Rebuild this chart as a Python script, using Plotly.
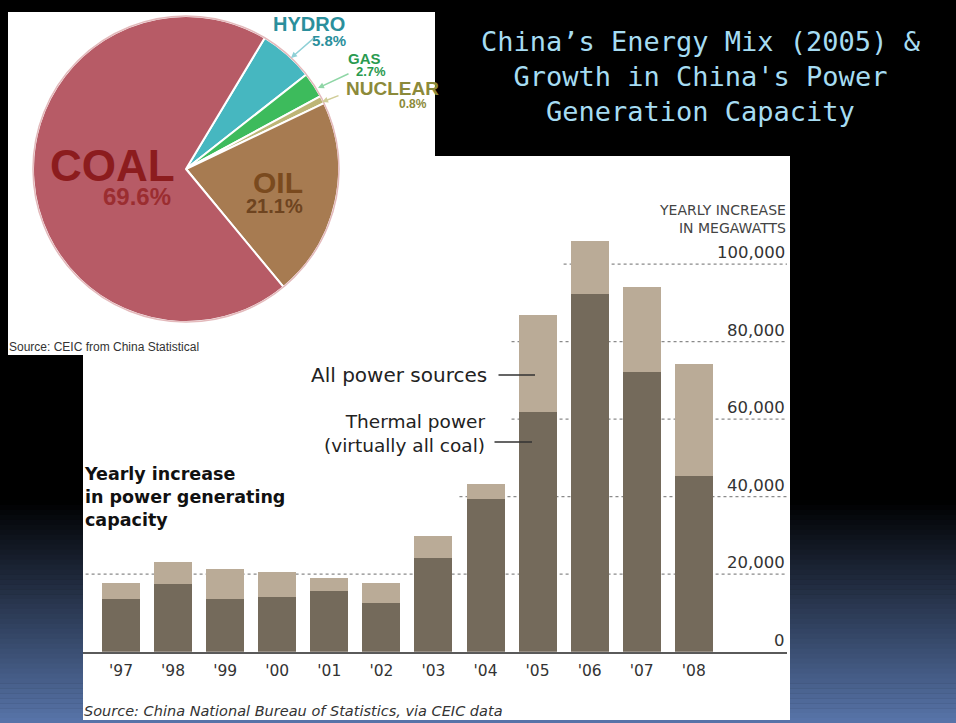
import plotly.graph_objects as go

W, H = 956, 723


def PX(x):
    return x / W


def PY(y):
    return 1 - y / H


# ---------------- data ----------------
pie_labels = ["HYDRO", "GAS", "NUCLEAR", "OIL", "COAL"]
pie_values = [5.8, 2.7, 0.8, 21.1, 69.6]
pie_colors = ["#46b7c0", "#3dbb5c", "#bdb576", "#a77b51", "#b75b66"]

years = ["'97", "'98", "'99", "'00", "'01", "'02", "'03", "'04", "'05", "'06", "'07", "'08"]
total_mw = [17600, 23100, 21400, 20600, 19100, 17800, 29900, 43400, 86900, 106000, 94200, 74200]
thermal_mw = [13500, 17500, 13500, 14100, 15600, 12500, 24200, 39500, 61800, 92300, 72100, 45300]
y_ticks = [0, 20000, 40000, 60000, 80000, 100000]

title_lines = ["China\u2019s Energy Mix (2005) &", "Growth in China's Power", "Generation Capacity"]

DARK = "#746a5b"
LIGHT = "#baab97"
X_RANGE = [-0.73, 12.79]
Y_RANGE = [0, 108300]

other_mw = [t - h for t, h in zip(total_mw, thermal_mw)]

fig = go.Figure()
fig.add_trace(go.Bar(x=years, y=thermal_mw, marker=dict(color=DARK, line=dict(width=0)),
                     width=0.73, name="Thermal power", hoverinfo="skip"))
fig.add_trace(go.Bar(x=years, y=other_mw, marker=dict(color=LIGHT, line=dict(width=0)),
                     width=0.73, name="Other sources", hoverinfo="skip"))

# pie
pc_x, pc_y, pr = 186, 169, 153
fig.add_trace(go.Pie(labels=pie_labels, values=pie_values, sort=False, direction="clockwise",
                     rotation=31, textinfo="none", hoverinfo="skip",
                     marker=dict(colors=pie_colors, line=dict(color="white", width=2)),
                     domain=dict(x=[PX(pc_x - pr), PX(pc_x + pr)], y=[PY(pc_y + pr), PY(pc_y - pr)])))

shapes = []
# slide background gradient
N = 45
g0, g1 = 500, 723
for k in range(N):
    t = (k + 0.5) / N
    c = (int(88 * t), int(117 * t), int(170 * t))
    shapes.append(dict(type="rect", xref="paper", yref="paper", layer="below",
                       x0=0, x1=1, y0=PY(g0 + (g1 - g0) * (k + 1) / N + 0.5),
                       y1=PY(g0 + (g1 - g0) * k / N),
                       fillcolor=f"rgb{c}", line=dict(width=0)))
# white picture boxes
shapes.append(dict(type="rect", xref="paper", yref="paper", layer="below",
                   x0=PX(8), x1=PX(435), y0=PY(355), y1=PY(12), fillcolor="white", line=dict(width=0)))
shapes.append(dict(type="rect", xref="paper", yref="paper", layer="below",
                   x0=PX(83), x1=PX(790), y0=PY(720), y1=PY(156), fillcolor="white", line=dict(width=0)))
# pie outer ring
shapes.append(dict(type="circle", xref="paper", yref="paper", layer="above",
                   x0=PX(pc_x - pr), x1=PX(pc_x + pr), y0=PY(pc_y + pr), y1=PY(pc_y - pr),
                   line=dict(color="#e3b9bb", width=1.5)))
# dotted gridlines, starting just left of the first bar that exceeds them
for j, v in enumerate(y_ticks[1:]):
    if j == 0:
        x0 = X_RANGE[0] + 0.05
    else:
        first = next(i for i, t in enumerate(total_mw) if t > v)
        x0 = first - 0.5
    shapes.append(dict(type="line", xref="x", yref="y", layer="below",
                       x0=x0, x1=X_RANGE[1], y0=v, y1=v,
                       line=dict(color="#8a8a8a", width=1.2, dash="dot")))

ann = []


def txt(x, y, s, size, color, xanchor="center", family="Liberation Sans", **kw):
    ann.append(dict(x=PX(x), y=PY(y), xref="paper", yref="paper", text=s, showarrow=False,
                    xanchor=xanchor, yanchor="middle", borderpad=0,
                    font=dict(size=size, color=color, family=family), **kw))


def arrow(tx, ty, hx, hy, color, head=2, width=1.5):
    ann.append(dict(x=PX(hx), y=PY(hy), xref="paper", yref="paper", text="", showarrow=True,
                    ax=tx - hx, ay=ty - hy, arrowhead=head, arrowsize=0.8, arrowwidth=width,
                    arrowcolor=color, standoff=0, startstandoff=0))


# title
txt(701, 77, "<br>".join(title_lines), 27, "#a6dcf2", family="DejaVu Sans Mono")

# pie labels
txt(112, 166, "<b>COAL</b>", 44, "#8c1c1e")
txt(137, 197, "<b>69.6%</b>", 24, "#9b2d30")
txt(278, 182, "<b>OIL</b>", 30, "#7a4a1e")
txt(274, 206, "<b>21.1%</b>", 20, "#6e4420")
txt(309, 24, "<b>HYDRO</b>", 20, "#2b8f9c")
txt(329, 40, "<b>5.8%</b>", 15, "#2b8f9c")
txt(364, 58, "<b>GAS</b>", 15, "#2a9a50")
txt(371, 72, "<b>2.7%</b>", 13, "#2a9a50")
txt(392, 88, "<b>NUCLEAR</b>", 19, "#8c8a3a")
txt(413, 104, "<b>0.8%</b>", 12, "#8c8a3a")
arrow(315, 37, 291, 58, "#8fd0d6")
arrow(350, 73, 318, 88, "#8fd6a6")
arrow(340, 95, 322, 102, "#d0cd98")
txt(8, 347, "Source: CEIC from China Statistical", 12, "#333333", xanchor="left")

# bar chart texts
txt(787, 218.5, "YEARLY INCREASE<br>IN MEGAWATTS", 14, "#444444", xanchor="right",
    family="DejaVu Sans", align="right")
for v in y_ticks:
    ann.append(dict(x=PX(787), y=v, xref="paper", yref="y", text=f"{v:,}", showarrow=False,
                    xanchor="right", yanchor="bottom", yshift=0,
                    font=dict(size=16.5, color="#333333", family="DejaVu Sans")))
txt(488, 375, "All power sources", 20, "#222222", xanchor="right", family="DejaVu Sans")
txt(486, 433, "Thermal power<br>(virtually all coal)", 18.5, "#222222", xanchor="right",
    family="DejaVu Sans", align="right")
arrow(497, 375, 535, 375, "#333333", head=0, width=1.3)
arrow(493, 442, 532, 442, "#333333", head=0, width=1.3)
txt(83, 497, "<b>Yearly increase<br>in power generating<br>capacity</b>", 17.5, "#111111",
    xanchor="left", family="DejaVu Sans", align="left")
txt(83, 711, "<i>Source: China National Bureau of Statistics, via CEIC data</i>", 14.5, "#333333",
    xanchor="left", family="DejaVu Sans")

fig.update_layout(
    width=W, height=H, margin=dict(l=0, r=0, t=0, b=0),
    paper_bgcolor="black", plot_bgcolor="rgba(0,0,0,0)",
    barmode="stack", showlegend=False, bargap=0,
    shapes=shapes, annotations=ann,
    xaxis=dict(domain=[PX(83), PX(787)], range=X_RANGE, type="category", showgrid=False,
               showline=True, linecolor="#5a5a5a", linewidth=2, ticks="", zeroline=False,
               tickfont=dict(family="DejaVu Sans", size=15.5, color="#333333"),
               ticklabelstandoff=4, fixedrange=True),
    yaxis=dict(domain=[PY(651.7), PY(232)], range=Y_RANGE, showgrid=False, zeroline=False,
               showticklabels=False, ticks="", fixedrange=True),
)

fig.write_html("out.html", config={"displayModeBar": False},
               post_script="document.body.style.margin='0';document.body.style.padding='0';"
                           "document.body.style.background='black';"
                           "document.body.style.overflow='hidden';")
